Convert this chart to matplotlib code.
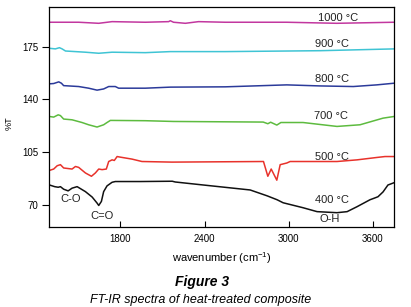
import matplotlib
matplotlib.use("Agg")
import matplotlib.pyplot as plt

# FT-IR spectra of heat-treated composite

wn_400 = [1295, 1332, 1357, 1373, 1396, 1428, 1456, 1492, 1551, 1599, 1634, 1646, 1665, 1681, 1705, 1741,
          1764, 1942, 2170, 2191, 2391, 2725, 2846, 2917, 2960, 3102, 3202, 3344, 3416, 3487, 3579, 3608,
          3636, 3672, 3707, 3750]
t_400 = [83.1, 82.0, 81.6, 82.0, 80.3, 79.2, 81.0, 82.0, 78.7, 75.1, 71.1, 69.5, 72.2, 78.7, 82.5, 84.9,
         85.4, 85.4, 85.6, 85.1, 83.1, 79.8, 75.9, 73.3, 71.3, 68.0, 65.4, 64.7, 65.4, 68.7, 73.3, 74.3,
         75.3, 78.5, 83.1, 84.6]

wn_500 = [1295, 1325, 1350, 1373, 1396, 1456, 1480, 1503, 1551, 1594, 1622, 1646, 1670, 1700, 1717, 1741,
          1757, 1777, 1800, 1883, 1954, 2168, 2820, 2851, 2875, 2915, 2939, 2986, 3010, 3344, 3487, 3629,
          3686, 3750]
t_500 = [92.8, 93.7, 95.9, 96.6, 94.4, 93.7, 95.4, 94.8, 91.1, 88.9, 91.1, 93.7, 93.3, 93.7, 98.7, 99.8,
         99.4, 102.0, 101.6, 100.3, 98.7, 98.3, 98.7, 88.9, 93.7, 86.3, 96.6, 97.7, 98.7, 98.7, 99.8, 101.4,
         102.0, 102.0]

wn_700 = [1295, 1325, 1357, 1373, 1396, 1456, 1527, 1574, 1634, 1681, 1705, 1729, 1978, 2179, 2818, 2851,
          2871, 2915, 2944, 3102, 3344, 3508, 3672, 3750]
t_700 = [128.6, 128.2, 129.7, 129.2, 126.9, 126.4, 124.6, 123.1, 121.6, 123.1, 124.6, 126.0, 125.8, 125.3,
         124.9, 123.8, 124.8, 122.9, 124.6, 124.6, 122.0, 123.1, 127.5, 128.6]

wn_800 = [1295, 1325, 1361, 1380, 1396, 1503, 1574, 1634, 1681, 1717, 1764, 1788, 1978, 2156, 2547, 2986,
          3223, 3460, 3627, 3750]
t_800 = [150.3, 150.5, 151.6, 150.7, 149.1, 148.5, 147.4, 146.1, 146.9, 148.5, 148.5, 147.4, 147.4, 148.1,
         148.3, 149.6, 148.9, 148.5, 149.6, 150.7]

wn_900 = [1295, 1337, 1366, 1385, 1409, 1551, 1646, 1741, 1978, 2156, 2547, 3223, 3750]
t_900 = [173.9, 173.5, 174.3, 173.5, 172.1, 171.3, 170.6, 171.3, 171.0, 171.7, 171.7, 172.3, 173.5]

wn_1000 = [1295, 1503, 1646, 1741, 1978, 2144, 2156, 2179, 2263, 2357, 2547, 2986, 3342, 3750]
t_1000 = [191.2, 191.2, 190.5, 191.6, 191.2, 191.6, 192.2, 191.2, 190.5, 191.6, 191.2, 191.2, 190.5, 191.2]

series = [
    (wn_400, t_400, "#111111", "400 \u00b0C", 3307, 72.9),
    (wn_500, t_500, "#e8322b", "500 \u00b0C", 3311, 102.0),
    (wn_700, t_700, "#5dbb3f", "700 \u00b0C", 3300, 129.0),
    (wn_800, t_800, "#2b3a9a", "800 \u00b0C", 3307, 153.6),
    (wn_900, t_900, "#3fc4d4", "900 \u00b0C", 3307, 176.9),
    (wn_1000, t_1000, "#c2379f", "1000 \u00b0C", 3354, 193.7),
]

bands = [("C-O", 1444, 73.8), ("C=O", 1670, 62.7), ("O-H", 3292, 60.7)]

x_ticks = [1800, 2400, 3000, 3600]
y_ticks = [70, 105, 140, 175]

plt.rcParams["font.family"] = ["Liberation Sans", "DejaVu Sans"]
plt.rcParams["mathtext.fontset"] = "custom"
plt.rcParams["mathtext.rm"] = "Liberation Sans"

fig = plt.figure(figsize=(4.11, 3.07), dpi=100)
ax = fig.add_axes([0.1204, 0.2596, 0.8382, 0.7160])

for wn, t, color, label, lx, ly in series:
    ax.plot(wn, t, color=color, lw=1.1)
    ax.text(lx, ly, label, fontsize=8, ha="center", va="center", color="#222222")

for name, bx, by in bands:
    ax.text(bx, by, name, fontsize=8, ha="center", va="center", color="#222222")

ax.set_xlim(1295, 3750)
ax.set_ylim(55, 201)
ax.set_xticks(x_ticks)
ax.set_yticks(y_ticks)
ax.tick_params(axis="x", direction="in", length=4, width=0.8, labelsize=7, pad=5)
ax.tick_params(axis="y", direction="out", length=5, width=0.8, labelsize=7, pad=3)
for sp in ax.spines.values():
    sp.set_linewidth(0.9)

ax.set_xlabel("wavenumber (cm$^{-1}$)", fontsize=8, labelpad=4)
# %T sits close to the left edge of the picture
fig.text(9 / 411, 1 - 123.5 / 307, "%T", fontsize=6.5, rotation=90, ha="center", va="center")

fig.text(0.4915, 1 - 282 / 307, "Figure 3", fontsize=10, fontweight="bold", fontstyle="italic",
         ha="center", va="center")
fig.text(0.489, 1 - 300 / 307, "FT-IR spectra of heat-treated composite", fontsize=9,
         fontstyle="italic", ha="center", va="center")

fig.savefig("out.png", dpi=100)
